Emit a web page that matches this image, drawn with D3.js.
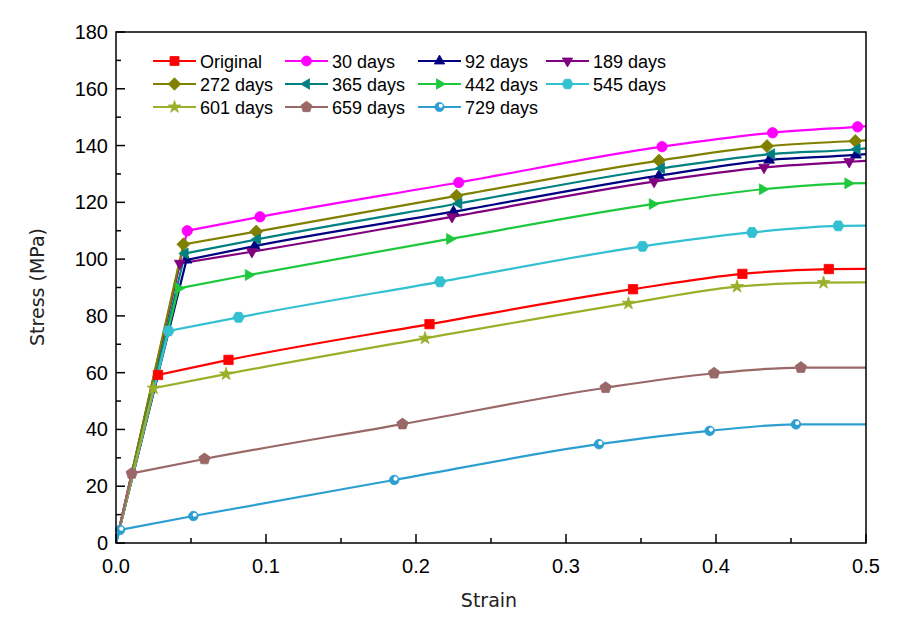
<!DOCTYPE html>
<html><head><meta charset="utf-8">
<script src="https://cdn.jsdelivr.net/npm/d3@7"></script>
<style>body{margin:0;background:#fff}</style></head>
<body><svg id="c" width="902" height="629"></svg>
<script>
// ---- data ----
const seriesNames = ["Original","30 days","92 days","189 days","272 days","365 days","442 days","545 days","601 days","659 days","729 days"];
const seriesColors = ["#ff0000","#ff00ff","#000080","#800080","#808000","#008080","#1ec83c","#33c0d0","#9aaf2a","#9b6868","#2c9fd0"];
const seriesMarkers = ["square","circle","triUp","triDown","diamond","triLeft","triRight","hexagon","star","pentagon","halfCircle"];

const strainOriginal = [0.028, 0.075, 0.209, 0.3447, 0.4176, 0.4752];
const stressOriginal = [59.2, 64.5, 77.1, 89.4, 94.8, 96.5];
const strain30 = [0.0475, 0.096, 0.2285, 0.364, 0.4377, 0.4944];
const stress30 = [110, 114.9, 127.0, 139.6, 144.5, 146.6];
const strain92 = [0.047, 0.0925, 0.225, 0.362, 0.4354, 0.4933];
const stress92 = [99.7, 104.6, 116.7, 129.4, 134.9, 136.7];
const strain189 = [0.0425, 0.0906, 0.224, 0.3587, 0.432, 0.4888];
const stress189 = [98.5, 102.6, 114.9, 127.3, 132.3, 134.3];
const strain272 = [0.0449, 0.0935, 0.227, 0.362, 0.434, 0.4929];
const stress272 = [105.2, 109.7, 122.3, 134.7, 139.8, 141.6];
const strain365 = [0.046, 0.0943, 0.2285, 0.3636, 0.437, 0.494];
const stress365 = [102, 107, 119.6, 132, 137, 138.7];
const strain442 = [0.0416, 0.0883, 0.2225, 0.3576, 0.431, 0.488];
const stress442 = [89.7, 94.4, 107.1, 119.4, 124.6, 126.7];
const strain545 = [0.035, 0.0817, 0.216, 0.351, 0.424, 0.4815];
const stress545 = [74.7, 79.5, 92.0, 104.5, 109.4, 111.7];
const strain601 = [0.025, 0.0734, 0.206, 0.3416, 0.414, 0.4717];
const stress601 = [54.5, 59.5, 72.1, 84.4, 90.3, 91.7];
const strain659 = [0.0105, 0.059, 0.191, 0.3264, 0.3987, 0.4566];
const stress659 = [24.5, 29.6, 41.9, 54.7, 59.8, 61.8];
const strain729 = [0.0027, 0.0516, 0.1855, 0.322, 0.3958, 0.4533];
const stress729 = [4.6, 9.5, 22.2, 34.8, 39.5, 41.8];
const endStrain = 0.5;
const endStress = [96.6, 146.8, 137.0, 134.6, 141.8, 139.0, 126.8, 111.8, 91.8, 61.8, 41.8];

const xTicks = [0.0, 0.1, 0.2, 0.3, 0.4, 0.5];
const yTicks = [0, 20, 40, 60, 80, 100, 120, 140, 160, 180];

const strains = [strainOriginal, strain30, strain92, strain189, strain272, strain365, strain442, strain545, strain601, strain659, strain729];
const stresses = [stressOriginal, stress30, stress92, stress189, stress272, stress365, stress442, stress545, stress601, stress659, stress729];

// ---- layout ----
const L = 116, R = 866, T = 32, B = 543;
const svg = d3.select("#c");
const x = d3.scaleLinear().domain([0, 0.5]).range([L, R]);
const y = d3.scaleLinear().domain([0, 180]).range([B, T]);

svg.append("clipPath").attr("id","clip").append("rect").attr("x",L).attr("y",T).attr("width",R-L).attr("height",B-T);

function markerPath(type, r) {
  const poly = (n, rot, rr) => {
    const pts = [];
    for (let i = 0; i < n; i++) {
      const a = rot + i * 2 * Math.PI / n;
      pts.push([rr * Math.cos(a), rr * Math.sin(a)]);
    }
    return "M" + pts.map(p => p[0].toFixed(2) + "," + p[1].toFixed(2)).join("L") + "Z";
  };
  switch (type) {
    case "square": return `M${-r*0.9},${-r*0.9}H${r*0.9}V${r*0.9}H${-r*0.9}Z`;
    case "circle": return d3.symbol(d3.symbolCircle, Math.PI*r*r)();
    case "halfCircle": return d3.symbol(d3.symbolCircle, Math.PI*r*r*0.85)();
    case "triUp": return poly(3, -Math.PI/2, r*1.2);
    case "triDown": return poly(3, Math.PI/2, r*1.2);
    case "triLeft": return poly(3, Math.PI, r*1.2);
    case "triRight": return poly(3, 0, r*1.2);
    case "diamond": return poly(4, -Math.PI/2, r*1.25);
    case "hexagon": return poly(6, 0, r*1.1);
    case "pentagon": return poly(5, -Math.PI/2, r*1.15);
    case "star": return d3.symbol(d3.symbolStar, r*r*1.9)();
  }
}

function drawMarker(g, type, color, cx, cy, r) {
  g.append("path").attr("d", markerPath(type, r)).attr("transform", `translate(${cx},${cy})`)
    .attr("fill", color).attr("stroke", color).attr("stroke-width", 0.8);
  if (type === "halfCircle") {
    g.append("circle").attr("cx", cx + r*0.25).attr("cy", cy - r*0.25).attr("r", r*0.4).attr("fill", "#fff");
  }
}

// ---- series ----
const plot = svg.append("g").attr("clip-path", "url(#clip)");
const lineGen = d3.line().x(d => x(d[0])).y(d => y(d[1])).curve(d3.curveMonotoneX);
seriesNames.forEach((name, i) => {
  const pts = strains[i].map((s, j) => [s, stresses[i][j]]);
  pts.push([endStrain, endStress[i]]);
  const d = `M${x(0)},${y(0)}L` + lineGen(pts).slice(1);
  plot.append("path").attr("d", d).attr("fill", "none").attr("stroke", seriesColors[i]).attr("stroke-width", 2.2);
});
seriesNames.forEach((name, i) => {
  const g = svg.append("g");
  strains[i].forEach((s, j) => drawMarker(g, seriesMarkers[i], seriesColors[i], x(s), y(stresses[i][j]), 5.2));
});

// ---- axes ----
const fr = svg.append("g");
fr.append("rect").attr("x", L).attr("y", T).attr("width", R-L).attr("height", B-T)
  .attr("fill", "none").attr("stroke", "#000").attr("stroke-width", 1.5);

const xMinor = d3.range(0.05, 0.5, 0.1);
xTicks.forEach(t => fr.append("line").attr("x1", x(t)).attr("x2", x(t)).attr("y1", B).attr("y2", B-9).attr("stroke","#000").attr("stroke-width",1.5));
xMinor.forEach(t => fr.append("line").attr("x1", x(t)).attr("x2", x(t)).attr("y1", B).attr("y2", B-5).attr("stroke","#000").attr("stroke-width",1.5));
yTicks.forEach(t => fr.append("line").attr("x1", L).attr("x2", L+9).attr("y1", y(t)).attr("y2", y(t)).attr("stroke","#000").attr("stroke-width",1.5));
d3.range(10, 180, 20).forEach(t => fr.append("line").attr("x1", L).attr("x2", L+5).attr("y1", y(t)).attr("y2", y(t)).attr("stroke","#000").attr("stroke-width",1.5));

const fmtX = d3.format(".1f");
xTicks.forEach(t => fr.append("text").attr("x", x(t)).attr("y", 573).attr("text-anchor","middle")
  .attr("font-family","Liberation Sans, Arial, sans-serif").attr("font-size", 20).text(fmtX(t)));
yTicks.forEach(t => fr.append("text").attr("x", 108).attr("y", y(t) + 7).attr("text-anchor","end")
  .attr("font-family","Liberation Sans, Arial, sans-serif").attr("font-size", 20).text(t));

svg.append("text").attr("x", 489).attr("y", 607).attr("text-anchor","middle")
  .attr("font-family","DejaVu Sans, sans-serif").attr("font-size", 19).attr("fill","#222").text("Strain");
svg.append("text").attr("transform","translate(44,287) rotate(-90)").attr("text-anchor","middle")
  .attr("font-family","DejaVu Sans, sans-serif").attr("font-size", 19).attr("fill","#222").text("Stress (MPa)");

// ---- legend ----
const legColX = [153, 285, 418, 546];
const legRowY = [61, 84, 107];
const leg = svg.append("g");
seriesNames.forEach((name, i) => {
  const cx = legColX[i % 4], cy = legRowY[Math.floor(i / 4)];
  leg.append("line").attr("x1", cx).attr("x2", cx + 43).attr("y1", cy).attr("y2", cy)
    .attr("stroke", seriesColors[i]).attr("stroke-width", 2.2);
  drawMarker(leg, seriesMarkers[i], seriesColors[i], cx + 21.5, cy, 5);
  leg.append("text").attr("x", cx + 47).attr("y", cy + 6.5)
    .attr("font-family","Liberation Sans, Arial, sans-serif").attr("font-size", 18).text(name);
});
</script>
</body></html>
